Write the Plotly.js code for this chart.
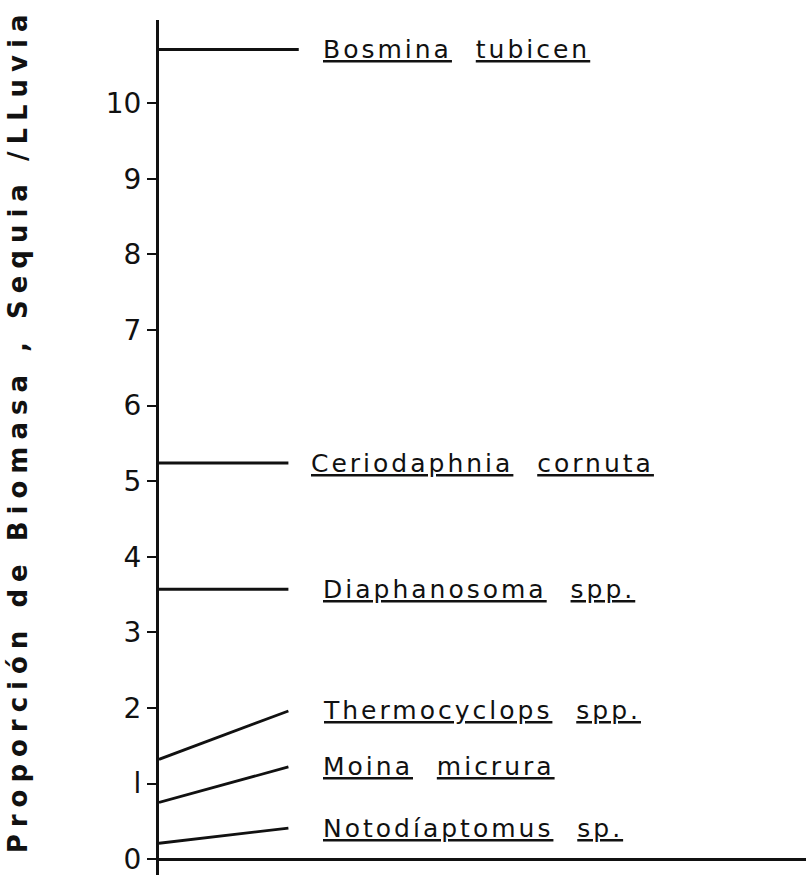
<!DOCTYPE html>
<html>
<head>
<meta charset="utf-8">
<script src="https://cdn.plot.ly/plotly-3.0.1.min.js"></script>
<style>
  html, body { margin: 0; padding: 0; background: #fff; }
  #plot { width: 806px; height: 875px; }
</style>
</head>
<body>
<div id="plot"></div>
<script>
// species and their biomass ratio (dry / rainy season)
const genus = ['Bosmina', 'Ceriodaphnia', 'Diaphanosoma', 'Thermocyclops', 'Moina', 'Notodíaptomus'];
const epithet = ['tubicen', 'cornuta', 'spp.', 'spp.', 'micrura', 'sp.'];
// value where each line meets the axis, and where it reaches the label
const ratioValues = [10.71, 5.24, 3.57, 1.32, 0.75, 0.21];
const labelLevels = [10.71, 5.24, 3.57, 1.96, 1.22, 0.41];
const yTicks = [0, 1, 2, 3, 4, 5, 6, 7, 8, 9, 10];
const yTickText = ['0', 'l', '2', '3', '4', '5', '6', '7', '8', '9', '10'];

const ink = '#111';
const font = 'DejaVu Sans, sans-serif';

let traces = [];
for (let i = 0; i < genus.length; i++) {
    traces.push({
        x: [0, i === 0 ? 1.08 : 1],
        y: [ratioValues[i], labelLevels[i]],
        type: 'scatter',
        mode: 'lines',
        line: { color: ink, width: 2.8 },
        hoverinfo: 'skip',
        showlegend: false
    });
}

function spaced(s, px) {
    return '<span style="letter-spacing:' + px + 'px">' + s + '</span>';
}

function underlined(s) {
    return '<u>' + spaced(s, 3) + '</u>';
}

let annotations = genus.map((g, i) => ({
    x: i === 1 ? 1.16 : 1.25,
    y: labelLevels[i],
    xref: 'x',
    yref: 'y',
    xanchor: 'left',
    yanchor: 'middle',
    showarrow: false,
    text: underlined(g) + '   ' + underlined(epithet[i]),
    font: { family: font, size: 25, color: ink }
}));

annotations.push({
    x: -0.218,
    y: 0.52,
    xref: 'paper',
    yref: 'paper',
    xanchor: 'center',
    yanchor: 'middle',
    textangle: -90,
    showarrow: false,
    text: spaced('Proporción de Biomasa , Sequia /LLuvia', 7),
    font: { family: font, size: 26, color: ink, weight: 'bold' }
});

let layout = {
    width: 806,
    height: 875,
    margin: { l: 159, r: 0, t: 20, b: 0 },
    paper_bgcolor: '#fff',
    plot_bgcolor: '#fff',
    showlegend: false,
    xaxis: {
        range: [0, 5],
        visible: false,
        fixedrange: true
    },
    yaxis: {
        range: [-0.21, 11.1],
        tickvals: yTicks,
        ticktext: yTickText,
        ticks: 'outside',
        ticklen: 9,
        tickwidth: 2,
        tickcolor: ink,
        showline: true,
        linewidth: 3,
        linecolor: ink,
        showgrid: false,
        zeroline: true,
        zerolinecolor: ink,
        zerolinewidth: 3,
        ticklabeloverflow: 'allow',
        tickfont: { family: font, size: 28, color: ink },
        fixedrange: true
    },
    annotations: annotations
};

Plotly.newPlot('plot', traces, layout, { staticPlot: true });
</script>
</body>
</html>
